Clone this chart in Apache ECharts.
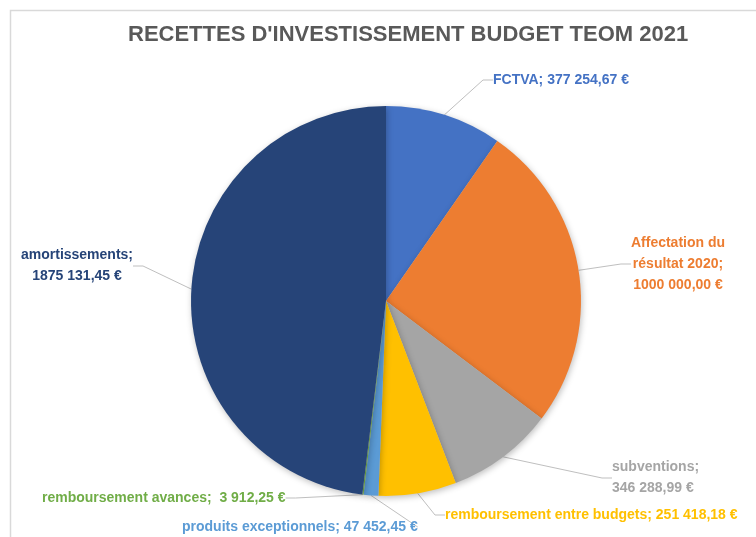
<!DOCTYPE html>
<html>
<head>
<meta charset="utf-8">
<script src="https://cdn.jsdelivr.net/npm/echarts@6/dist/echarts.min.js"></script>
<style>
  html, body { margin: 0; padding: 0; background: #fff; }
  #chart { width: 756px; height: 537px; }
</style>
</head>
<body>
<div id="chart"></div>
<script>
const categories = [
  "FCTVA",
  "Affectation du\nrésultat 2020",
  "subventions",
  "remboursement entre budgets",
  "produits exceptionnels",
  "remboursement avances",
  "amortissements",
];
const values = [377254.67, 1000000.0, 346288.99, 251418.18, 47452.45, 3912.25, 1875131.45];
const valueLabels = [
  "377 254,67 €",
  "1000 000,00 €",
  "346 288,99 €",
  "251 418,18 €",
  "47 452,45 €",
  "3 912,25 €",
  "1875 131,45 €",
];
const colors = ["#4472C4", "#ED7D31", "#A5A5A5", "#FFC000", "#5B9BD5", "#70AD47", "#264478"];
// separator between name and value: space or line break
const separators = [" ", "\n", "\n", " ", " ", "  ", "\n"];

// label anchor positions, picked to follow the reference
const labelSpots = [
  { x: 493, y: 80, align: "left" },
  { x: 678, y: 264, align: "center" },
  { x: 612, y: 478, align: "left" },
  { x: 445, y: 515, align: "left" },
  { x: 182, y: 527, align: "left" },
  { x: 42, y: 498, align: "left" },
  { x: 77, y: 266, align: "center" },
];

const chart = echarts.init(document.getElementById("chart"));

chart.setOption({
  animation: false,
  backgroundColor: "#fff",
  title: {
    text: "RECETTES D'INVESTISSEMENT BUDGET TEOM 2021",
    left: 123,
    top: 19,
    textStyle: {
      fontFamily: "Liberation Sans",
      fontSize: 22,
      fontWeight: "bold",
      color: "#595959",
    },
  },
  graphic: [
    {
      type: "rect",
      shape: { x: 10.5, y: 10.5, width: 900, height: 700 },
      style: { fill: null, stroke: "#D9D9D9", lineWidth: 1.5 },
      silent: true,
    },
  ],
  series: [
    {
      type: "pie",
      center: [386, 301],
      radius: 195,
      startAngle: 90,
      clockwise: true,
      avoidLabelOverlap: false,
      itemStyle: {
        borderWidth: 0,
        shadowBlur: 6,
        shadowColor: "rgba(0,0,0,0.25)",
        shadowOffsetX: 1,
        shadowOffsetY: 2,
      },
      label: {
        show: true,
        position: "outside",
        fontFamily: "Liberation Sans",
        fontSize: 14,
        fontWeight: "bold",
        lineHeight: 21,
      },
      labelLine: {
        show: true,
        length: 15,
        length2: 10,
        lineStyle: { color: "#BFBFBF", width: 1 },
      },
      labelLayout: (params) => {
        const spot = labelSpots[params.dataIndex];
        return {
          x: spot.x,
          y: spot.y,
          align: spot.align,
          verticalAlign: "middle",
        };
      },
      data: categories.map((name, i) => ({
        name,
        value: values[i],
        itemStyle: { color: colors[i] },
        label: {
          color: colors[i],
          align: labelSpots[i].align,
          formatter: () => `${name};${separators[i]}${valueLabels[i]}`,
        },
      })),
    },
  ],
});
</script>
</body>
</html>
